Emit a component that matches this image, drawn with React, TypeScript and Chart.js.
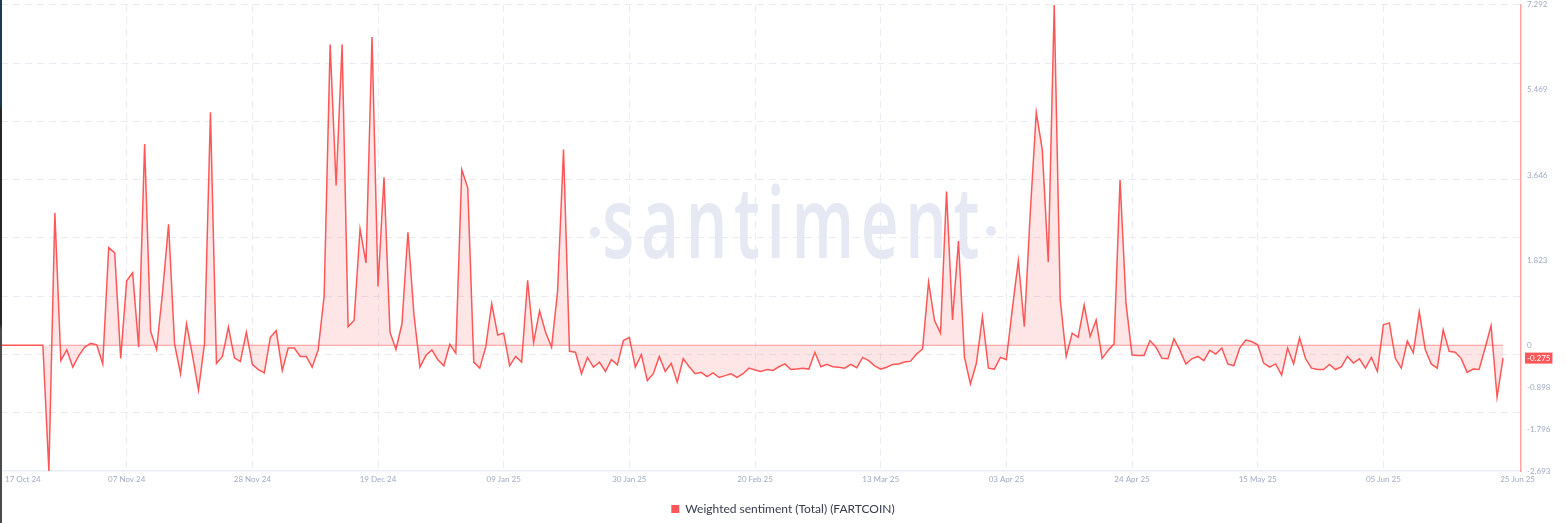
import React, { useEffect, useRef } from 'react';
import { Chart, registerables } from 'chart.js';

Chart.register(...registerables);

// ---- data (one value per day, day 0 = 17 Oct 2024) ----
const OCT_24 = [0, 0, 0, 0, 0, 0, 0, 0, -2.693, 2.83, -0.33, -0.1, -0.47, -0.22, -0.04];
const NOV_24 = [0.04, 0.01, -0.4, 2.09, 1.98, -0.28, 1.38, 1.55, -0.04, 4.31, 0.3, -0.09, 1.14, 2.59, 0.03,
  -0.61, 0.46, -0.22, -0.96, 0.03, 4.99, -0.39, -0.24, 0.39, -0.27, -0.35, 0.28, -0.41, -0.52, -0.59];
const DEC_24 = [0.17, 0.31, -0.54, -0.06, -0.06, -0.24, -0.24, -0.47, -0.1, 1.06, 6.44, 3.42, 6.44, 0.4, 0.53,
  2.49, 1.76, 6.6, 1.26, 3.6, 0.28, -0.09, 0.46, 2.42, 0.67, -0.47, -0.22, -0.1, -0.31, -0.44, 0.02];
const JAN_25 = [-0.17, 3.76, 3.37, -0.36, -0.49, -0.04, 0.89, 0.22, 0.26, -0.44, -0.24, -0.36, 1.39, 0.06, 0.74,
  0.28, -0.04, 1.14, 4.19, -0.13, -0.15, -0.61, -0.26, -0.47, -0.36, -0.56, -0.31, -0.42, 0.1, 0.17, -0.47];
const FEB_25 = [-0.2, -0.76, -0.61, -0.24, -0.56, -0.39, -0.79, -0.29, -0.46, -0.61, -0.58, -0.67, -0.59, -0.69,
  -0.65, -0.61, -0.69, -0.61, -0.49, -0.53, -0.56, -0.52, -0.54, -0.46, -0.4, -0.52, -0.51, -0.49];
const MAR_25 = [-0.51, -0.15, -0.46, -0.41, -0.46, -0.47, -0.49, -0.41, -0.48, -0.26, -0.33, -0.44, -0.51, -0.47,
  -0.41, -0.4, -0.36, -0.34, -0.19, -0.08, 1.35, 0.53, 0.26, 3.29, 0.54, 2.23, -0.26, -0.83, -0.38, 0.61, -0.49];
const APR_25 = [-0.51, -0.26, -0.31, 0.78, 1.81, 0.4, 2.85, 4.99, 4.19, 1.78, 7.292, 0.98, -0.24, 0.26, 0.17,
  0.86, 0.19, 0.54, -0.28, -0.11, 0.03, 3.54, 0.89, -0.21, -0.22, -0.22, 0.1, -0.04, -0.28, -0.29];
const MAY_25 = [0.14, -0.11, -0.4, -0.29, -0.24, -0.33, -0.11, -0.19, -0.06, -0.4, -0.44, -0.06, 0.11, 0.08, 0.01,
  -0.38, -0.47, -0.4, -0.64, -0.06, -0.4, 0.16, -0.29, -0.49, -0.52, -0.52, -0.41, -0.52, -0.46, -0.24, -0.38];
const JUN_25 = [-0.29, -0.49, -0.26, -0.56, 0.44, 0.48, -0.28, -0.49, 0.09, -0.16, 0.72, -0.09, -0.4, -0.49, 0.33,
  -0.13, -0.15, -0.28, -0.58, -0.51, -0.52, -0.06, 0.42, -1.11, -0.275];

const SENTIMENT = [...OCT_24, ...NOV_24, ...DEC_24, ...JAN_25, ...FEB_25, ...MAR_25, ...APR_25, ...MAY_25, ...JUN_25];

const SERIES_LABEL = 'Weighted sentiment (Total) (FARTCOIN)';
const Y_MIN = -2.693;
const Y_MAX = 7.292;
const Y_TICKS = [7.292, 5.469, 3.646, 1.823, 0, -0.898, -1.796, -2.693];
const Y_GRID_DIVISIONS = 8;
const X_MAX_DAY = 254;
const ZERO_LINE_START_DAY = 8;
const X_TICK_DAYS = [0, 21, 42, 63, 84, 105, 126, 147, 168, 189, 210, 231, 251];
const X_TICK_LABELS = ['17 Oct 24', '07 Nov 24', '28 Nov 24', '19 Dec 24', '09 Jan 25', '30 Jan 25', '20 Feb 25',
  '13 Mar 25', '03 Apr 25', '24 Apr 25', '15 May 25', '05 Jun 25', '25 Jun 25'];

const RED = '#ff5757';
const TICK_COLOR = '#9faac4';
const GRID_COLOR = '#e9ecf4';
const FONT = 'Lato';
const WATERMARK = '#e6e9f3';

const watermarkPlugin = {
  id: 'watermark',
  beforeDatasetsDraw(chart: any) {
    const ctx = chart.ctx as CanvasRenderingContext2D;
    ctx.save();
    ctx.fillStyle = WATERMARK;
    ctx.font = '600 99px "Open Sans"';
    try { (ctx as any).letterSpacing = '10px'; } catch (e) { /* ignore */ }
    ctx.textAlign = 'left';
    ctx.textBaseline = 'alphabetic';
    const m = ctx.measureText('santiment');
    const ink = m.actualBoundingBoxLeft + m.actualBoundingBoxRight;
    const sx = 373 / ink;
    ctx.translate(605, 258);
    ctx.scale(sx, 1);
    ctx.fillText('santiment', m.actualBoundingBoxLeft, 0);
    ctx.restore();
    ctx.save();
    ctx.fillStyle = WATERMARK;
    ctx.beginPath();
    ctx.arc(595, 232, 5, 0, Math.PI * 2);
    ctx.fill();
    ctx.beginPath();
    ctx.arc(991, 231, 5, 0, Math.PI * 2);
    ctx.fill();
    ctx.restore();
  },
};

const xLabelsPlugin = {
  id: 'xLabels',
  afterDraw(chart: any) {
    const ctx = chart.ctx as CanvasRenderingContext2D;
    const area = chart.chartArea;
    const xs = chart.scales.x;
    ctx.save();
    ctx.font = `8px ${FONT}`;
    ctx.fillStyle = TICK_COLOR;
    ctx.textBaseline = 'middle';
    const y = area.bottom + 8;
    const last = X_TICK_DAYS.length - 1;
    X_TICK_DAYS.forEach((d, i) => {
      const px = xs.getPixelForValue(d);
      if (i === 0) {
        ctx.textAlign = 'left';
        ctx.fillText(X_TICK_LABELS[i], px + 4, y);
      } else if (i === last) {
        ctx.textAlign = 'right';
        ctx.fillText(X_TICK_LABELS[i], area.right + 14, y);
      } else {
        ctx.textAlign = 'center';
        ctx.fillText(X_TICK_LABELS[i], px, y);
      }
    });
    ctx.restore();
  },
};

const badgePlugin = {
  id: 'lastBadge',
  afterDraw(chart: any) {
    const ctx = chart.ctx as CanvasRenderingContext2D;
    const area = chart.chartArea;
    const lastVal = SENTIMENT[SENTIMENT.length - 1];
    const py = chart.scales.y.getPixelForValue(lastVal);
    ctx.save();
    ctx.font = `8px ${FONT}`;
    const txt = lastVal.toFixed(3);
    const w = ctx.measureText(txt).width;
    ctx.fillStyle = RED;
    ctx.fillRect(area.right + 4, py - 5.5, w + 4, 11);
    ctx.fillStyle = '#ffffff';
    ctx.textAlign = 'left';
    ctx.textBaseline = 'middle';
    ctx.fillText(txt, area.right + 6, py + 0.5);
    ctx.restore();
  },
};

export default function App() {
  const ref = useRef<HTMLCanvasElement | null>(null);

  useEffect(() => {
    if (!ref.current) return;
    const mainData = SENTIMENT.map((v, i) => ({ x: i, y: v }));
    const zeroData = SENTIMENT.map((_, i) => i).filter((i) => i >= ZERO_LINE_START_DAY).map((i) => ({ x: i, y: 0 }));
    const gridStep = (Y_MAX - Y_MIN) / Y_GRID_DIVISIONS;
    const gridTicks = Array.from({ length: Y_GRID_DIVISIONS }, (_, k) => Y_MAX - k * gridStep);
    const xGridDays = X_TICK_DAYS.slice(1, -1);

    const chart = new Chart(ref.current, {
      type: 'line',
      data: {
        datasets: [
          {
            label: SERIES_LABEL,
            data: mainData,
            borderColor: RED,
            borderWidth: 1.5,
            backgroundColor: 'rgba(255,87,87,0.15)',
            fill: 'origin',
            pointRadius: 0,
            tension: 0,
            yAxisID: 'y',
          },
          {
            label: 'zero',
            data: zeroData,
            borderColor: 'rgba(255,87,87,0.6)',
            borderWidth: 1,
            fill: false,
            pointRadius: 0,
            tension: 0,
            yAxisID: 'y',
          },
        ],
      },
      options: {
        responsive: false,
        animation: false,
        devicePixelRatio: 1,
        layout: { padding: { left: 1, top: 0, right: 0, bottom: -2 } },
        interaction: { mode: 'nearest', intersect: false },
        scales: {
          x: {
            type: 'linear',
            min: 0,
            max: X_MAX_DAY,
            afterBuildTicks: (s: any) => { s.ticks = xGridDays.map((v) => ({ value: v })); },
            afterFit: (s: any) => { s.height = 26; },
            ticks: { display: false },
            grid: { color: GRID_COLOR, lineWidth: 1, drawTicks: false },
            border: { display: true, color: '#eceef5', width: 1.5, dash: (c: any) => (c.tick ? [7, 5] : []) },
          },
          yg: {
            type: 'linear',
            position: 'left',
            min: Y_MIN,
            max: Y_MAX,
            afterBuildTicks: (s: any) => { s.ticks = gridTicks.map((v) => ({ value: v })); },
            afterFit: (s: any) => { s.width = 0; },
            ticks: { display: false },
            grid: { color: GRID_COLOR, lineWidth: 1, drawTicks: false },
            border: { display: false, dash: [7, 5] },
          },
          y: {
            type: 'linear',
            position: 'right',
            min: Y_MIN,
            max: Y_MAX,
            afterBuildTicks: (s: any) => { s.ticks = Y_TICKS.map((v) => ({ value: v })); },
            afterFit: (s: any) => { s.width = 44; },
            ticks: {
              autoSkip: false,
              padding: 0,
              color: TICK_COLOR,
              font: { family: FONT, size: 8 },
              callback: (v: any) => (v === 0 ? '0' : Number(v).toFixed(3)),
            },
            grid: { display: false, drawTicks: true, tickLength: 6 },
            border: { display: true, color: 'rgba(255,87,87,0.55)', width: 1.5 },
          },
        },
        plugins: {
          tooltip: { enabled: false },
          legend: {
            display: true,
            position: 'bottom',
            labels: {
              boxWidth: 8,
              boxHeight: 8,
              padding: 6,
              color: '#353a4d',
              font: { family: FONT, size: 12 },
              filter: (item: any) => item.datasetIndex === 0,
              generateLabels: (c: any) =>
                (Chart.defaults.plugins.legend.labels.generateLabels as any)(c).map((l: any) => ({
                  ...l,
                  fillStyle: RED,
                  strokeStyle: RED,
                  lineWidth: 0,
                })),
            },
          },
        },
      },
      plugins: [watermarkPlugin, xLabelsPlugin, badgePlugin],
    } as any);

    return () => chart.destroy();
  }, []);

  return (
    <div style={{ position: 'absolute', left: 0, top: 0, width: 1565, height: 523, background: '#ffffff', overflow: 'hidden' }}>
      <canvas ref={ref} width={1565} height={523} style={{ display: 'block' }} />
      <div style={{ position: 'absolute', left: 0, top: 0, width: 2, height: 523, background: 'linear-gradient(#1b3a50 0%, #1b3a50 20%, #262626 21%, #262626 62%, #4a4a4a 63%, #4a4a4a 100%)' }} />
    </div>
  );
}
